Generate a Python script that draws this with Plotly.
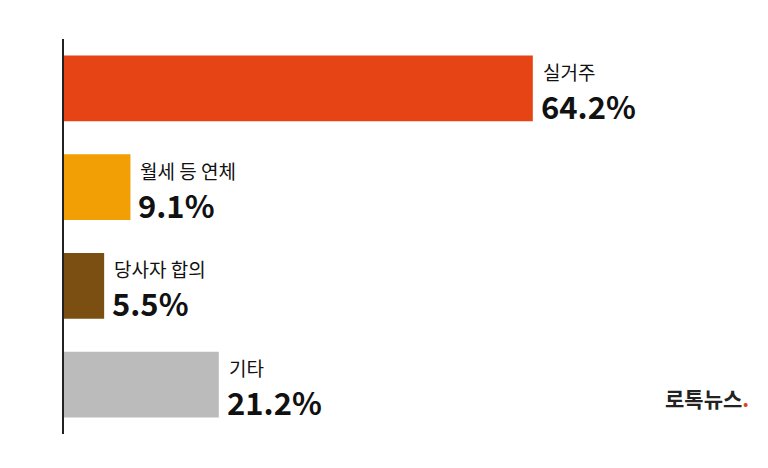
import plotly.graph_objects as go

# data
categories = ["실거주", "월세 등 연체", "당사자 합의", "기타"]
values = [64.2, 9.1, 5.5, 21.2]
colors = ["#E64414", "#F29F05", "#7B4F12", "#BBBBBB"]

FONT = "Noto Sans CJK KR"

fig = go.Figure(go.Bar(
    x=values, y=categories, orientation="h",
    marker=dict(color=colors, line=dict(width=0)),
    hoverinfo="skip",
))

for cat, val in zip(categories, values):
    fig.add_annotation(x=val, y=cat, text=cat, showarrow=False,
                       xanchor="left", yanchor="middle", xshift=8, yshift=17,
                       font=dict(family=FONT, size=19, color="#111111"))
    fig.add_annotation(x=val, y=cat, text=f"<b>{val}%</b>", showarrow=False,
                       xanchor="left", yanchor="middle", xshift=6, yshift=-17,
                       font=dict(family=FONT, size=31, color="#111111"))

# watermark
fig.add_annotation(xref="paper", yref="paper", x=0.965, y=0.09,
                   text="<b>로톡뉴스<span style='color:#E64414'>.</span></b>",
                   showarrow=False, xanchor="right", yanchor="middle",
                   font=dict(family=FONT, size=21, color="#222222"))

fig.update_layout(
    width=768, height=468,
    margin=dict(l=56, r=0, t=31, b=42),
    paper_bgcolor="white", plot_bgcolor="white",
    bargap=0.333, showlegend=False,
    xaxis=dict(range=[0, 97.5], visible=False),
    yaxis=dict(autorange="reversed", showticklabels=False, showgrid=False,
               showline=True, linecolor="#222222", linewidth=1.5,
               zeroline=False, ticks=""),
)

fig.write_html("out.html")
